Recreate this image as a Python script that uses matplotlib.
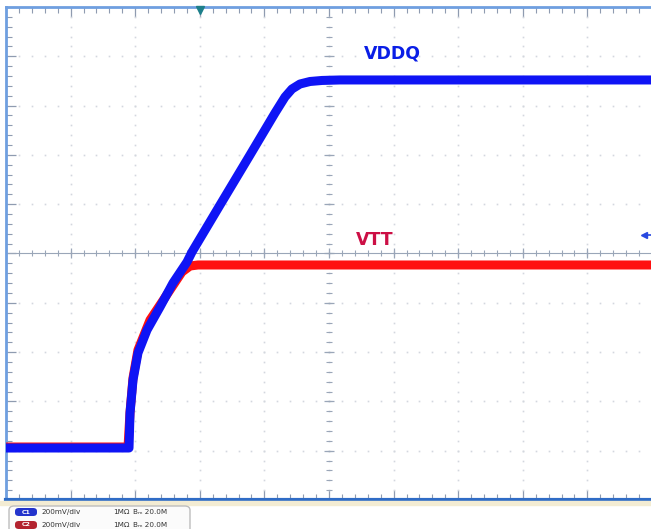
import numpy as np
import matplotlib.pyplot as plt
from matplotlib.patches import FancyBboxPatch, Rectangle

# scope screen, in divisions (10 x 10 grid, 0 at bottom-left)
vddq_t = [0.0, 1.904, 1.920, 1.966, 2.043, 2.183, 2.384, 2.585, 2.802,
          2.879, 3.313, 3.777, 4.164, 4.319, 4.427, 4.551, 4.706, 4.892,
          5.170, 10.0]
vddq_v = [1.055, 1.055, 1.765, 2.434, 2.982, 3.448, 3.915, 4.402, 4.828,
          5.030, 5.984, 6.998, 7.850, 8.175, 8.337, 8.438, 8.489, 8.510,
          8.520, 8.520]

vtt_t = [0.0, 1.889, 1.920, 1.966, 2.043, 2.229, 2.539, 2.724, 2.848,
         2.972, 10.0]
vtt_v = [1.075, 1.075, 1.785, 2.475, 3.043, 3.651, 4.260, 4.625, 4.746,
         4.767, 4.767]

labels = ["VDDQ", "VTT"]
label_pos = [(5.975, 9.05), (5.71, 5.27)]
label_colors = ["#0a1ee6", "#cc0f45"]

trig_t = 3.0
ref_marker_v = 5.375

W, H = 651, 529
fig = plt.figure(figsize=(W / 100, H / 100), dpi=100)


def fx(px):
    return px / W


def fy(py):
    return 1 - py / H


ax = fig.add_axes([fx(6), fy(500), 646 / W, 493 / H])
ax.set_xlim(0, 10)
ax.set_ylim(0, 10)

# dotted graticule
grid_c = "#d3d7de"
minor = np.arange(0, 10.001, 0.2)
for i in range(1, 10):
    if i != 5:
        ax.plot(minor, np.full_like(minor, i), ls="none", marker="s", ms=1.2,
                mec="none", mfc=grid_c)
    ax.plot(np.full_like(minor, i), minor, ls="none", marker="s", ms=1.2,
            mec="none", mfc=grid_c)

# centre axes with small ticks
ctr_c = "#9aa6b8"
ax.axhline(5, color=ctr_c, lw=0.8)
ax.plot(minor, np.full_like(minor, 5), ls="none", marker="|", ms=4,
        mew=0.8, color=ctr_c)
ax.plot(np.full_like(minor, 5), minor, ls="none", marker="_", ms=4,
        mew=0.8, color=ctr_c)
ax.plot(np.arange(11), np.full(11, 5), ls="none", marker="|", ms=7,
        mew=0.9, color=ctr_c)
ax.plot(np.full(11, 5), np.arange(11), ls="none", marker="_", ms=7,
        mew=0.9, color=ctr_c)

# traces
ax.plot(vtt_t, vtt_v, color="#ff1010", lw=6.5, solid_joinstyle="round",
        solid_capstyle="butt", zorder=3)
ax.plot(vddq_t, vddq_v, color="#0f14f5", lw=6.5, solid_joinstyle="round",
        solid_capstyle="butt", zorder=4)

for lab, (tx, ty), c in zip(labels, label_pos, label_colors):
    ax.text(tx, ty, lab, color=c, fontsize=12.5, fontweight="bold",
            ha="center", va="center", zorder=5)

# trigger and reference markers
ax.plot([trig_t], [9.93], marker="v", ms=6, color="#1d7f8a", clip_on=False,
        zorder=6)
ax.plot([9.87], [ref_marker_v], marker="<", ms=4.5, color="#2848e0",
        clip_on=False, zorder=6)
ax.plot([9.87, 10], [ref_marker_v, ref_marker_v], color="#2848e0", lw=1.2,
        clip_on=False, zorder=6)

# frame
ax.spines["right"].set_visible(False)
ax.spines["left"].set_color("#6f9fe0")
ax.spines["left"].set_linewidth(2)
ax.spines["top"].set_color("#6f9fe0")
ax.spines["top"].set_linewidth(2)
ax.spines["bottom"].set_color("#2f6cc6")
ax.spines["bottom"].set_linewidth(3)

ax.set_xticks(np.arange(0, 11))
ax.set_yticks(np.arange(0, 11))
ax.set_xticks(minor, minor=True)
ax.set_yticks(minor, minor=True)
ax.tick_params(which="both", direction="in", top=True, bottom=True,
               left=True, right=False, labelbottom=False, labelleft=False,
               color="#8f9bb0")
ax.tick_params(which="major", length=7, width=0.9)
ax.tick_params(which="minor", length=4, width=0.8)

# channel info strip under the screen
fig.patches.append(Rectangle((0, fy(505)), 1, fy(501) - fy(505),
                             transform=fig.transFigure, color="#f3ecd3",
                             zorder=0))
fig.patches.append(FancyBboxPatch((fx(9), fy(540)), fx(181), fy(506) - fy(540),
                                  boxstyle="round,pad=0,rounding_size=0.008",
                                  transform=fig.transFigure, fc="#fbfbfb",
                                  ec="#bdbdbd", lw=1))

rows = [("C1", "#2233cc", 512), ("C2", "#b3232f", 525)]
for name, c, py in rows:
    fig.patches.append(FancyBboxPatch((fx(15), fy(py + 4)), fx(22),
                                      fy(py - 4) - fy(py + 4),
                                      boxstyle="round,pad=0,rounding_size=0.006",
                                      transform=fig.transFigure, fc=c,
                                      ec="none"))
    fig.text(fx(26), fy(py), name, color="white", fontsize=4.5,
             ha="center", va="center", fontweight="bold")
    fig.text(fx(41), fy(py), "200mV/div", color="#333333", fontsize=5.2,
             va="center")
    fig.text(fx(113), fy(py), "1M\u03a9", color="#333333", fontsize=5.2,
             va="center")
    fig.text(fx(133), fy(py), "B\u2098 20.0M", color="#333333", fontsize=5.2,
             va="center")

fig.savefig("out.png", dpi=100, facecolor="white")
